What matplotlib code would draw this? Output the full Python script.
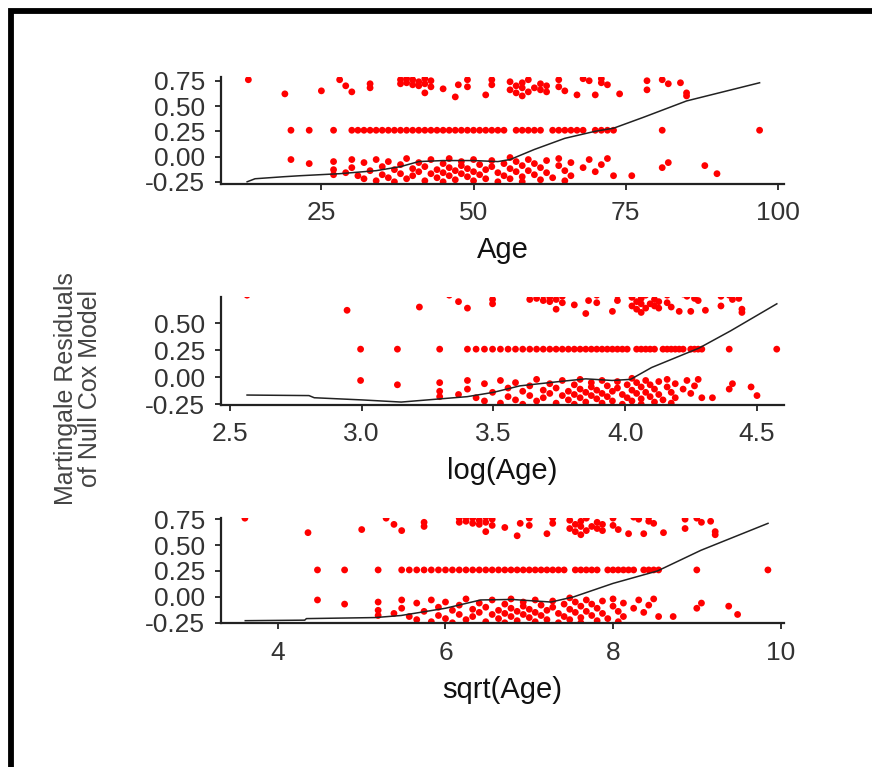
"""Martingale residuals of a null Cox model against three codings of age."""

import matplotlib
matplotlib.use("Agg")
import matplotlib.pyplot as plt
import numpy as np
from matplotlib.patches import Rectangle

# --------------------------------------------------------------------------- #
# Data: patient age and martingale residual
# --------------------------------------------------------------------------- #
# residuals of patients with an event (upper band)
upper_age = [13, 19, 25, 28, 29, 30, 33, 33, 38, 38, 39, 39, 40, 40, 41, 41, 42, 42,
             42, 43, 43, 45, 47, 47.5, 49, 49, 52, 53, 53, 56, 56, 57, 57, 58, 58, 58,
             59, 59, 60, 61, 61, 62, 62, 64, 64, 65, 67, 68, 69, 70, 71, 71, 72, 74,
             78.5, 78.5, 81, 82, 84, 85, 85]
upper_resid = [0.76, 0.62, 0.65, 0.76, 0.70, 0.64, 0.72, 0.68, 0.76, 0.72, 0.77, 0.73,
               0.76, 0.71, 0.74, 0.70, 0.77, 0.72, 0.63, 0.69, 0.75, 0.67, 0.59, 0.71,
               0.76, 0.69, 0.61, 0.76, 0.71, 0.74, 0.66, 0.63, 0.70, 0.60, 0.68, 0.73,
               0.64, 0.76, 0.68, 0.72, 0.66, 0.70, 0.64, 0.76, 0.69, 0.65, 0.61, 0.77,
               0.75, 0.61, 0.77, 0.73, 0.71, 0.62, 0.75, 0.66, 0.76, 0.72, 0.73, 0.63,
               0.60]

# censored at end of follow-up: all share one residual
row_age = [20, 23, 27, 30, 31, 32, 33, 34, 35, 36, 37, 38, 39, 40, 41, 42, 43, 44, 45,
           46, 47, 48, 49, 50, 51, 52, 53, 54, 55, 57, 58, 59, 60, 61, 63, 64, 65, 66,
           67, 68, 70, 71, 72, 73, 81, 97]
ROW_RESID = 0.26

# remaining censored patients (lower band)
lower_age = [20, 23, 27, 27, 27, 29, 30, 30, 31, 32, 32, 33, 34, 34, 35, 35, 36, 36,
             37, 37, 38, 38, 39, 39, 40, 40, 41, 41, 42, 42, 43, 43, 44, 44, 45, 45,
             45, 46, 46, 46, 47, 47, 48, 48, 48, 49, 49, 50, 50, 50, 51, 51, 52, 52,
             53, 53, 54, 54, 55, 55, 56, 56, 56, 57, 57, 58, 58, 58, 59, 59, 60, 60,
             61, 61, 62, 62, 63, 64, 64, 65, 65, 66, 66, 68, 69, 70, 71, 72, 73, 76,
             81, 82, 88, 90]
lower_resid = [-0.03, -0.07, -0.05, -0.13, -0.18, -0.16, -0.03, -0.11, -0.19, -0.06,
               -0.22, -0.14, -0.03, -0.24, -0.10, -0.18, -0.05, -0.21, -0.13, -0.25,
               -0.08, -0.17, -0.02, -0.22, -0.12, -0.19, -0.06, -0.15, -0.24, -0.10,
               -0.03, -0.17, -0.13, -0.21, -0.07, -0.16, -0.25, -0.02, -0.11, -0.19,
               -0.14, -0.23, -0.05, -0.17, -0.09, -0.20, -0.12, -0.03, -0.15, -0.24,
               -0.08, -0.18, -0.13, -0.22, -0.04, -0.10, -0.16, -0.25, -0.07, -0.19,
               -0.01, -0.12, -0.22, -0.05, -0.15, -0.09, -0.20, -0.25, -0.03, -0.14,
               -0.07, -0.18, -0.11, -0.23, -0.04, -0.16, -0.21, -0.02, -0.09, -0.14,
               -0.24, -0.06, -0.19, -0.11, -0.03, -0.15, -0.08, -0.02, -0.19, -0.19,
               -0.11, -0.06, -0.09, -0.17]

# lowess smooths, one per coding of age
smooth_age_x = [12.8, 14.1, 18.8, 21.5, 28, 34, 38, 41, 45, 50, 54, 56, 60, 65, 70,
                73, 78, 85, 97]
smooth_age_y = [-0.25, -0.22, -0.20, -0.19, -0.17, -0.14, -0.10, -0.05, -0.04, -0.04,
                -0.05, -0.03, 0.07, 0.18, 0.25, 0.28, 0.39, 0.55, 0.73]
smooth_log_x = [2.565, 2.80, 2.82, 3.0, 3.15, 3.3, 3.4, 3.5, 3.6, 3.75, 3.85, 3.95,
                4.02, 4.1, 4.28, 4.4, 4.575]
smooth_log_y = [-0.165, -0.17, -0.19, -0.21, -0.23, -0.20, -0.18, -0.14, -0.08,
                -0.04, -0.015, -0.03, -0.02, 0.09, 0.27, 0.43, 0.68]
smooth_sqrt_x = [3.61, 4.32, 4.34, 5.16, 5.47, 6.0, 6.42, 6.79, 7.26, 7.53, 8.0, 8.53,
                 9.05, 9.85]
smooth_sqrt_y = [-0.23, -0.225, -0.21, -0.20, -0.18, -0.11, -0.03, -0.025, -0.05,
                 0.0, 0.13, 0.25, 0.45, 0.71]

Y_TICKS = [-0.25, 0.0, 0.25, 0.5, 0.75]
Y_TICK_LABELS = ["-0.25", "0.00", "0.25", "0.50", "0.75"]

TEXT = "#333333"
plt.rcParams["font.family"] = ["Liberation Sans", "DejaVu Sans"]

age = np.array(upper_age + row_age + lower_age, dtype=float)
resid = np.array(upper_resid + [ROW_RESID] * len(row_age) + lower_resid)

# (x values, smooth x, smooth y, x label, xlim, xticks, tick format, ylim, axes rect)
panels = [
    (age, smooth_age_x, smooth_age_y, "Age", (8.5, 101), [25, 50, 75, 100], "{:g}",
     (-0.272, 0.79), [0.2534, 0.7601, 0.6456, 0.1399]),
    (np.log(age), smooth_log_x, smooth_log_y, "log(Age)", (2.466, 4.602),
     [2.5, 3.0, 3.5, 4.0, 4.5], "{:.1f}",
     (-0.257, 0.746), [0.2534, 0.4720, 0.6456, 0.1412]),
    (np.sqrt(age), smooth_sqrt_x, smooth_sqrt_y, "sqrt(Age)", (3.32, 10.04),
     [4, 6, 8, 10], "{:g}",
     (-0.255, 0.765), [0.2534, 0.1874, 0.6456, 0.1377]),
]

fig = plt.figure(figsize=(8.72, 7.67), dpi=100)

for x, sx, sy, label, xlim, xticks, fmt, ylim, rect in panels:
    ax = fig.add_axes(rect)
    ax.scatter(x, resid, s=24, color="red", edgecolor="none", zorder=2)
    ax.plot(sx, sy, color="#222222", lw=1.1, zorder=3)
    ax.set_xlim(*xlim)
    ax.set_ylim(*ylim)
    ax.set_xticks(xticks)
    ax.set_xticklabels([fmt.format(t) for t in xticks])
    vis = [(t, s) for t, s in zip(Y_TICKS, Y_TICK_LABELS) if ylim[0] - 0.01 <= t <= ylim[1]]
    ax.set_yticks([t for t, _ in vis])
    ax.set_yticklabels([s for _, s in vis])
    for side in ("top", "right"):
        ax.spines[side].set_visible(False)
    for side in ("left", "bottom"):
        ax.spines[side].set_linewidth(1.6)
        ax.spines[side].set_color("#222222")
    ax.tick_params(length=4.5, width=1.3, color="#222222", labelsize=19,
                   labelcolor=TEXT)
    ax.tick_params(axis="y", pad=7)
    ax.tick_params(axis="x", pad=8)
    ax.set_xlabel(label, fontsize=21, color="#111111", labelpad=8)

fig.text(0.090, 0.494, "Martingale Residuals\nof Null Cox Model", rotation=90,
         ha="center", va="center", fontsize=18, color="#444444", linespacing=1.0)

# border round the whole figure, running off the right and bottom edges
fig.patches.append(Rectangle((11 / 872, -0.2), 1.3, 1.2 - 11 / 767,
                             transform=fig.transFigure, fill=False,
                             edgecolor="black", lw=4.2))

fig.savefig("out.png", dpi=100)
